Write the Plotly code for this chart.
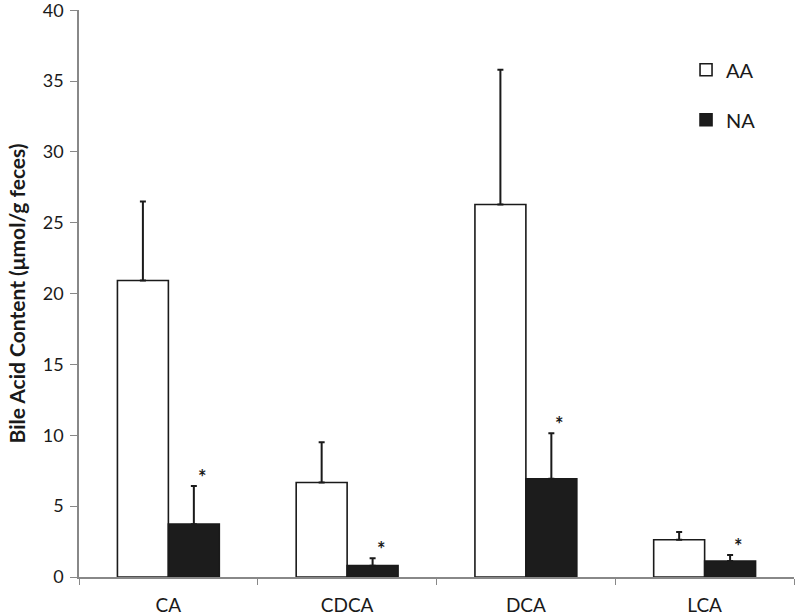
import plotly.graph_objects as go

categories = ["CA", "CDCA", "DCA", "LCA"]
aa_values = [20.93, 6.67, 26.29, 2.63]
aa_errors = [5.57, 2.84, 9.51, 0.54]
na_values = [3.73, 0.80, 6.93, 1.13]
na_errors = [2.70, 0.52, 3.22, 0.42]
y_ticks = [0, 5, 10, 15, 20, 25, 30, 35, 40]
significant = ["*", "*", "*", "*"]

FONT = "Lato, Open Sans, sans-serif"

fig = go.Figure()
fig.add_trace(go.Bar(
    name="AA", x=categories, y=aa_values,
    marker=dict(color="white", line=dict(color="#1a1a1a", width=1.6)),
    error_y=dict(type="data", symmetric=False, array=aa_errors,
                 arrayminus=[0] * len(aa_errors), color="#1a1a1a",
                 thickness=2, width=3),
    legendgroup="AA",
))
fig.add_trace(go.Bar(
    name="NA", x=categories, y=na_values,
    marker=dict(color="#1c1c1c", line=dict(color="#1a1a1a", width=1.6)),
    error_y=dict(type="data", symmetric=False, array=na_errors,
                 arrayminus=[0] * len(na_errors), color="#1a1a1a",
                 thickness=2, width=3),
    legendgroup="NA",
))

for c, v, e, s in zip(categories, na_values, na_errors, significant):
    fig.add_annotation(x=c, y=v + e, text="<b>" + s + "</b>", showarrow=False,
                       xshift=34, yshift=-5, yanchor="bottom",
                       font=dict(size=20, color="#1a1a1a", family=FONT))

fig.add_annotation(xref="paper", yref="paper", x=-63 / 715, y=0.5,
                   xanchor="center", yanchor="middle", textangle=-90,
                   text="<b>Bile Acid Content (μmol/g feces)</b>", showarrow=False,
                   font=dict(size=21, color="#1a1a1a", family=FONT))

fig.update_layout(
    width=797, height=616,
    margin=dict(l=79, r=3, t=10, b=39),
    paper_bgcolor="white", plot_bgcolor="white",
    barmode="group", bargap=0.43, bargroupgap=0,
    font=dict(family=FONT, size=18, color="#1a1a1a"),
    showlegend=True,
    legend=dict(x=0.849, y=0.929, xanchor="left", yanchor="top",
                bgcolor="rgba(0,0,0,0)", tracegroupgap=21,
                font=dict(size=20, family=FONT), itemwidth=30),
    xaxis=dict(type="category", range=[-0.5, 3.5], showline=True,
               linecolor="#888888", linewidth=1.5, ticks="outside",
               tickson="boundaries", ticklen=6, tickcolor="#888888",
               tickfont=dict(size=19, family=FONT), showgrid=False,
               zeroline=False, automargin=False, ticklabelstandoff=10),
    yaxis=dict(range=[0, 40.02], tickvals=y_ticks, showline=True,
               linecolor="#888888", linewidth=1.5, ticks="outside",
               ticklen=7, tickcolor="#888888", showgrid=False,
               zeroline=False, tickfont=dict(size=18, family=FONT),
               automargin=False, ticklabelstandoff=3,
               ticklabeloverflow="allow"),
)

fig.write_html("out.html", config={"displayModeBar": False},
               post_script="document.body.style.margin='0';")
